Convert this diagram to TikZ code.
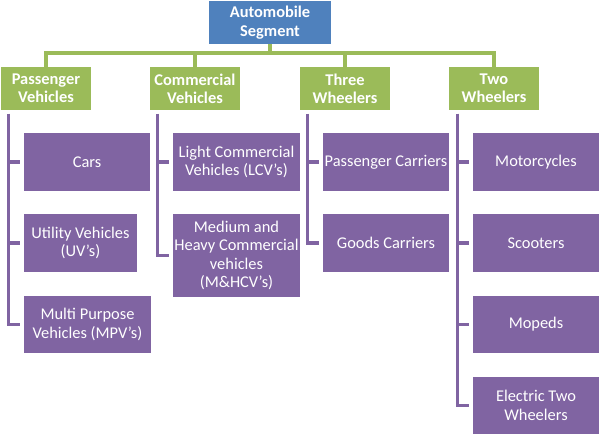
\documentclass[tikz,border=0pt]{standalone}
\usepackage{fontspec}
\setmainfont{Carlito}
\definecolor{offblue}{HTML}{4F81BD}
\definecolor{offgreen}{HTML}{9BBB59}
\definecolor{offpurple}{HTML}{8064A2}
\begin{document}
\begin{tikzpicture}[x=1pt,y=-1pt,
  box/.style={rectangle, inner sep=0pt, text=white, align=center,
    font=\fontsize{16.4}{18.3}\selectfont},
  topbox/.style={box, fill=offblue, minimum width=122pt, minimum height=43pt, font=\fontsize{16.4}{18.3}\selectfont\bfseries},
  catbox/.style={box, fill=offgreen, minimum width=90pt, minimum height=43pt, font=\fontsize{16.4}{18.3}\selectfont\bfseries},
  leaf/.style={box, fill=offpurple, minimum width=126pt, minimum height=58pt},
  gline/.style={draw=offgreen, line width=3.5pt},
  pline/.style={draw=offpurple, line width=3.8pt, shorten >=3.5pt}]
\useasboundingbox (0,0) rectangle (600,435);
% top
\node[topbox] (top) at (270,22.5) {Automobile\\Segment};
% categories
\node[catbox] (pv) at (46,88.5) {Passenger\\Vehicles};
\node[catbox] (cv) at (195,88.5) {Commercial\\Vehicles};
\node[catbox] (thw) at (345,88.5) {Three\\Wheelers};
\node[catbox] (tww) at (494,88.5) {Two\\Wheelers};
% leaves
\node[leaf] (cars) at (87,162) {Cars};
\node[leaf, minimum width=113pt] (uv) at (80.5,243) {Utility Vehicles\\(UV’s)};
\node[leaf, minimum width=127pt, minimum height=57pt] (mpv) at (87.5,324.5) {Multi Purpose\\Vehicles (MPV’s)};
\node[leaf, minimum width=127pt] (lcv) at (236.5,162) {Light Commercial\\Vehicles (LCV’s)};
\node[leaf, minimum width=127pt, minimum height=83pt] (mhcv) at (236.5,255.5) {Medium and\\Heavy Commercial\\vehicles\\(M\&HCV’s)};
\node[leaf] (pc) at (386,162) {Passenger Carriers};
\node[leaf] (gc) at (386,243) {Goods Carriers};
\node[leaf] (moto) at (536,162) {Motorcycles};
\node[leaf] (scoot) at (536,243) {Scooters};
\node[leaf, minimum height=57pt] (moped) at (536,324.5) {Mopeds};
\node[leaf, minimum height=57pt] (etw) at (536,405.5) {Electric Two\\Wheelers};
% green connectors
\coordinate (bus) at (270,53);
\draw[gline] (top.south) -- (bus) -| (pv.north);
\draw[gline] (bus) -| (cv.north);
\draw[gline] (bus) -| (thw.north);
\draw[gline] (bus) -| (tww.north);
% purple connectors
\coordinate (pvt) at (8.5,114);
\coordinate (cvt) at (157.5,114);
\coordinate (thwt) at (307.5,114);
\coordinate (twwt) at (457.5,114);
\foreach \c in {cars,uv,mpv} \draw[pline] (pvt) |- (\c.west);
\foreach \c in {lcv,mhcv} \draw[pline] (cvt) |- (\c.west);
\foreach \c in {pc,gc} \draw[pline] (thwt) |- (\c.west);
\foreach \c in {moto,scoot,moped,etw} \draw[pline] (twwt) |- (\c.west);
\end{tikzpicture}
\end{document}
